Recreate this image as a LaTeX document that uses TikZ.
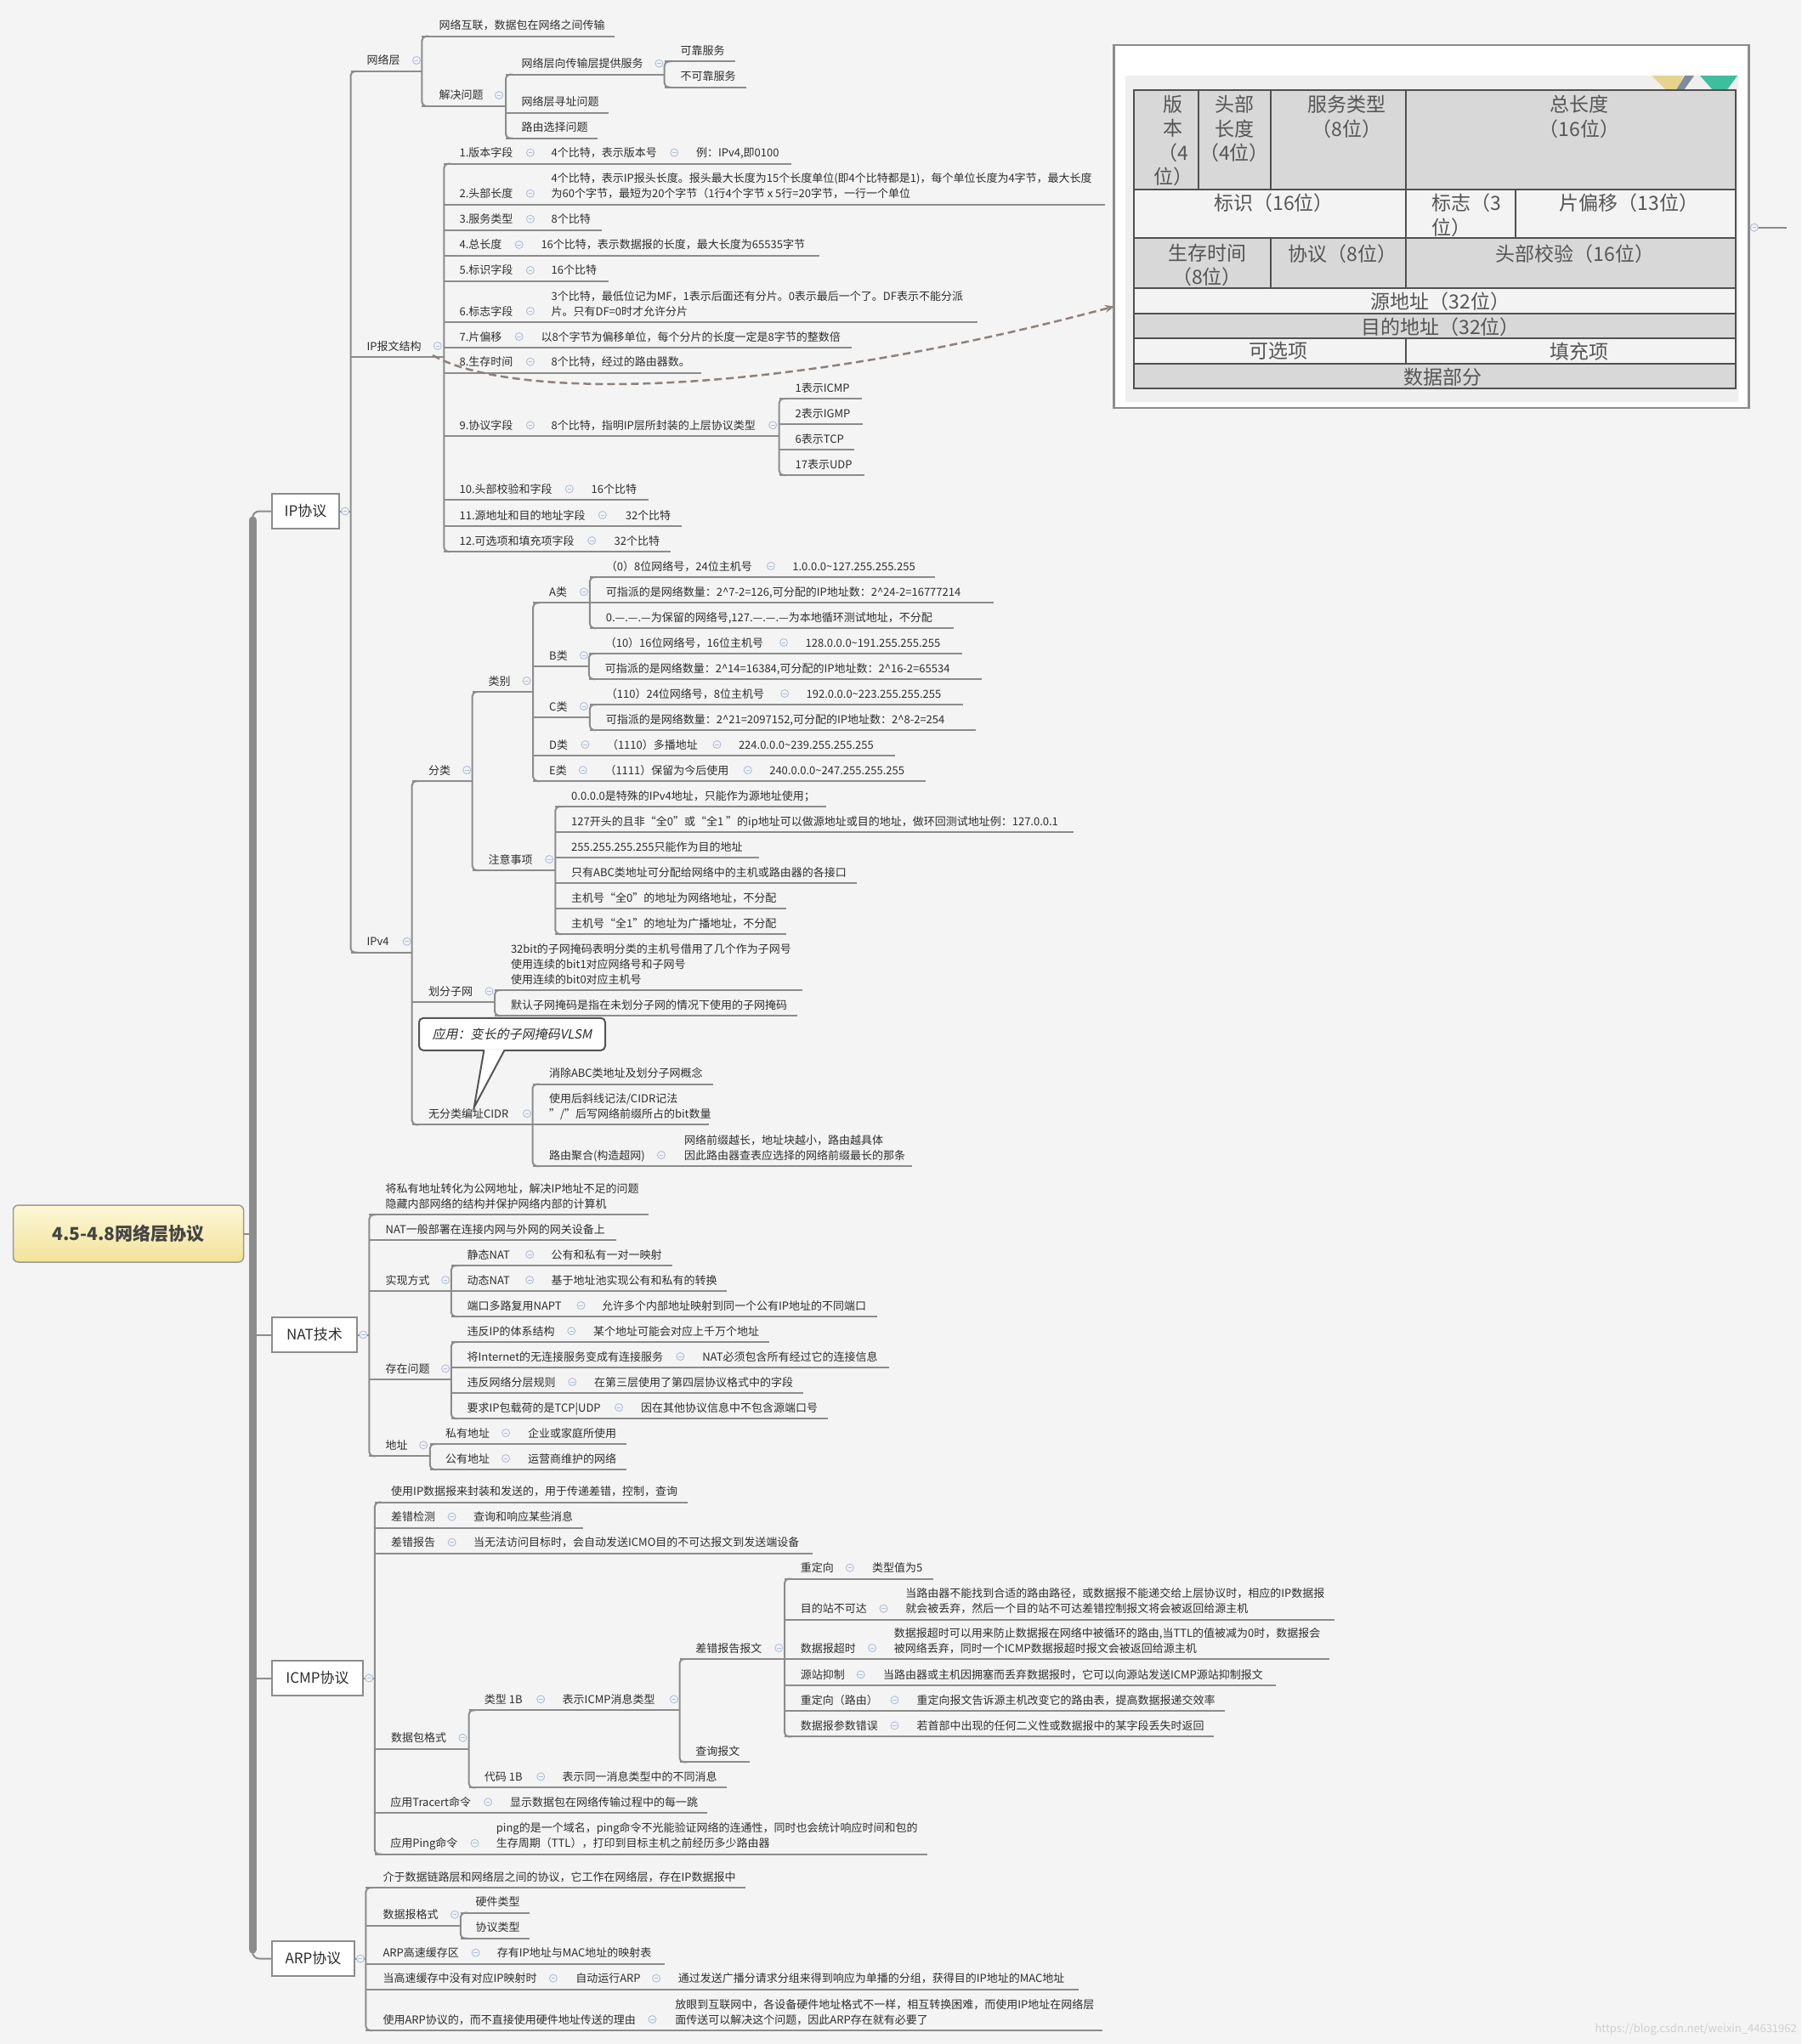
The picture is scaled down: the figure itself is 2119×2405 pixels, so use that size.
\documentclass[tikz,border=0pt]{standalone}
\usepackage{fontspec}
\setmainfont{Noto Sans CJK SC}
\newfontfamily\itfont[FakeSlant=0.2]{Noto Sans CJK SC}
\usetikzlibrary{arrows.meta}
\definecolor{bg}{HTML}{F4F4F4}
\definecolor{lc}{HTML}{8C8C8C}
\definecolor{tc}{HTML}{2E2E2E}
\definecolor{cc}{HTML}{AEBDDA}
\definecolor{tg}{HTML}{D8D8D8}
\definecolor{tw}{HTML}{F3F3F3}
\definecolor{tl}{HTML}{555555}
\definecolor{tb}{HTML}{505050}
\definecolor{dsh}{HTML}{8E817B}
\definecolor{imgbg}{HTML}{EFEFEF}
\definecolor{dyel}{HTML}{E6D38C}
\definecolor{dgry}{HTML}{7F8C99}
\definecolor{dtea}{HTML}{3DBF9C}
\definecolor{rootb}{HTML}{9A9A9A}
\definecolor{roott}{HTML}{FCF8D6}
\definecolor{rootbot}{HTML}{F2E29A}
\definecolor{roottx}{HTML}{444444}
\definecolor{wmc}{HTML}{CFCFCF}
\newcounter{nn}
\newcommand\fs{\fontsize{13}{18}\selectfont}
\newcommand\TX[3]{\stepcounter{nn}\node[txt] (t\thenn) at (#1,#2) {#3};}
\newcommand\TT[3]{\stepcounter{nn}\node[tcell] (c\thenn) at (#1,#2) {#3};}
\newcommand\UL[3]{\draw[lnk] (#1,#3) -- (#2,#3);}
\newcommand\SP[3]{\draw[lnk,rounded corners=5pt] (#1+8,#2) -- (#1,#2) -- (#1,#3) -- (#1+8,#3);}
\newcommand\CM[2]{\draw[cmk] (#1,#2) circle[radius=4.5pt]; \draw[cmk] (#1-2.3,#2) -- (#1+2.3,#2);}
\tikzset{
 lnk/.style={draw=lc, line width=2pt},
 txt/.style={anchor=south west, inner sep=0pt, outer sep=0pt, yshift=2.6pt, font=\fs, text=tc, align=left, execute at end node=\strut},
 cmk/.style={draw=cc, line width=0.9pt, fill=bg},
 mbox/.style={draw=lc, line width=2pt, fill=white, font=\fontsize{17}{20}\selectfont, text=tc, inner sep=0pt, minimum height=41pt},
 tcell/.style={font=\fontsize{23}{28.5}\selectfont, text=tl, align=center, inner sep=0pt},
}
\begin{document}
\begin{tikzpicture}[x=1pt,y=-1pt]
\fill[bg] (0,0) rectangle (2119,2405);
\useasboundingbox (0,0) rectangle (2119,2405);

% ---------------- image of IP header ----------------
\node[draw=lc, line width=2.5pt, fill=white, minimum width=747pt, minimum height=427pt, inner sep=0pt] (img) at (1684,266.35) {};
\fill[imgbg] (1324,89) rectangle (2044.5,472.7);
\fill[dyel] (1943,89) -- (1980,89) -- (1973,106) -- (1960,106) -- cycle;
\fill[dgry] (1982,89) -- (1993,89) -- (1981,106) -- (1972,106) -- cycle;
\fill[dtea] (2000,89) -- (2044,89) -- (2024,116) -- cycle;
\fill[tg] (1334,106) rectangle (2042,222.7);
\fill[tw] (1334,222.7) rectangle (2042,280.3);
\fill[tg] (1334,280.3) rectangle (2042,339.3);
\fill[tw] (1334,339.3) rectangle (2042,369.3);
\fill[tg] (1334,369.3) rectangle (2042,398.3);
\fill[tw] (1334,398.3) rectangle (2042,427.7);
\fill[tg] (1334,427.7) rectangle (2042,457.3);
\begin{scope}[draw=tb, line width=2pt]
\draw (1334,106) rectangle (2042,457.3);
\foreach \yy in {222.7,280.3,339.3,369.3,398.3,427.7} \draw (1334,\yy) -- (2042,\yy);
\foreach \xx in {1410.2,1494.9,1653.7} \draw (\xx,106) -- (\xx,222.7);
\foreach \xx in {1653.7,1783.3} \draw (\xx,222.7) -- (\xx,280.3);
\foreach \xx in {1494.9,1653.7} \draw (\xx,280.3) -- (\xx,339.3);
\draw (1653.7,398.3) -- (1653.7,427.7);
\end{scope}
\TT{1380}{165.5}{版\\本\\（4\\位）}
\TT{1452}{151.5}{头部\\长度\\（4位）}
\TT{1584.7}{137.3}{服务类型\\（8位）}
\TT{1858}{137.3}{总长度\\（16位）}
\TT{1498.5}{239}{标识（16位）}
\stepcounter{nn}\node[tcell, align=left, anchor=west] (c\thenn) at (1684,253.3) {标志（3\\位）};
\TT{1916.5}{239}{片偏移（13位）}
\TT{1420}{312}{生存时间\\（8位）}
\TT{1579.5}{298.3}{协议（8位）}
\TT{1852.8}{298.3}{头部校验（16位）}
\TT{1694.5}{355}{源地址（32位）}
\TT{1694.5}{384.3}{目的地址（32位）}
\TT{1503.8}{413.3}{可选项}
\TT{1858}{413.3}{填充项}
\TT{1697}{443.3}{数据部分}
\draw[lnk] (2068,267.7) -- (2102,267.7);
\CM{2063.8}{267.7}

% ---------------- root and main branches ----------------
\node[draw=rootb, line width=1.5pt, rounded corners=6pt, top color=roott, bottom color=rootbot, minimum width=271pt, minimum height=67pt, inner sep=0pt, font=\bfseries\fontsize{21}{24}\selectfont, text=roottx] (root) at (151,1451.5) {4.5-4.8网络层协议};
\draw[lc, line width=9pt, line cap=round] (297,612) -- (297,2294);
\node[mbox, minimum width=79pt] (ip) at (359.5,601.5) {IP协议};
\node[mbox, minimum width=100pt] (nat) at (370,1570.5) {NAT技术};
\node[mbox, minimum width=107pt] (icmp) at (373.5,1974.5) {ICMP协议};
\node[mbox, minimum width=97pt] (arp) at (368.5,2304.5) {ARP协议};
\draw[lnk] (root.east) -- (297,1451.5);
\draw[lnk, rounded corners=8pt] (297,625) -- (297,601.5) -- (ip.west);
\draw[lnk] (297,1570.5) -- (nat.west);
\draw[lnk] (297,1974.5) -- (icmp.west);
\draw[lnk, rounded corners=8pt] (297,2285) -- (297,2304.5) -- (arp.west);
\draw[lnk] (ip.east) -- (412.5,601.5);
\draw[lnk] (nat.east) -- (434.4,1570.5);
\draw[lnk] (icmp.east) -- (440.8,1974.5);
\draw[lnk] (arp.east) -- (430.4,2304.5);
\CM{406}{601.5}
\CM{427.3}{1570.5}
\CM{434}{1974.5}
\CM{424}{2304.5}

% ---------------- IP protocol ----------------
\SP{412.5}{84}{1120.7}
% network layer
\UL{412.5}{496.4}{84} \TX{431.6}{84}{网络层} \CM{490}{71}
\SP{496.4}{42.7}{125}
\UL{496.4}{722.6}{42.7} \TX{516.5}{42.7}{网络互联，数据包在网络之间传输}
\UL{496.4}{595}{125} \TX{516.5}{125}{解决问题} \CM{587}{112}
\SP{595}{87.7}{162.7}
\UL{595}{781.7}{87.7} \TX{613.5}{87.7}{网络层向传输层提供服务} \CM{775.4}{74.7}
\SP{781.7}{72.3}{102.7}
\UL{781.7}{865}{72.3} \TX{800.7}{72.3}{可靠服务}
\UL{781.7}{877.6}{102.7} \TX{800.7}{102.7}{不可靠服务}
\UL{595}{715.7}{132.7} \TX{613.5}{132.7}{网络层寻址问题}
\UL{595}{703}{162.7} \TX{613.5}{162.7}{路由选择问题}
% IP packet structure
\UL{412.5}{522.3}{420} \TX{431.6}{420}{IP报文结构} \CM{514.8}{407}
\SP{522.3}{192.7}{649}
\UL{522.3}{931}{192.7} \TX{540.6}{192.7}{1.版本字段} \CM{623.9}{179.7} \TX{648.6}{192.7}{4个比特，表示版本号} \CM{793.2}{179.7} \TX{819}{192.7}{例：IPv4,即0100}
\UL{522.3}{1300}{240.7} \TX{540.6}{240.7}{2.头部长度} \CM{623.9}{227.7} \TX{648.6}{240.7}{4个比特，表示IP报头长度。报头最大长度为15个长度单位(即4个比特都是1)，每个单位长度为4字节，最大长度\\为60个字节，最短为20个字节（1行4个字节 x 5行=20字节，一行一个单位}
\UL{522.3}{708.3}{270.7} \TX{540.6}{270.7}{3.服务类型} \CM{623.9}{257.7} \TX{648.6}{270.7}{8个比特}
\UL{522.3}{964.3}{301} \TX{540.6}{301}{4.总长度} \CM{610.7}{288} \TX{636.5}{301}{16个比特，表示数据报的长度，最大长度为65535字节}
\UL{522.3}{715.7}{331} \TX{540.6}{331}{5.标识字段} \CM{623.9}{318} \TX{648.6}{331}{16个比特}
\UL{522.3}{1150.3}{379} \TX{540.6}{379}{6.标志字段} \CM{623.9}{366} \TX{648.6}{379}{3个比特，最低位记为MF，1表示后面还有分片。0表示最后一个了。DF表示不能分派\\片。只有DF=0时才允许分片}
\UL{522.3}{1001.6}{409} \TX{540.6}{409}{7.片偏移} \CM{610.7}{396} \TX{636.5}{409}{以8个字节为偏移单位，每个分片的长度一定是8字节的整数倍}
\UL{522.3}{824.8}{438.7} \TX{540.6}{438.7}{8.生存时间} \CM{623.9}{425.7} \TX{648.6}{438.7}{8个比特，经过的路由器数。}
\UL{522.3}{916.7}{513.3} \TX{540.6}{513.3}{9.协议字段} \CM{623.9}{500.3} \TX{648.6}{513.3}{8个比特，指明IP层所封装的上层协议类型} \CM{909.2}{500.3}
\SP{916.7}{469}{559}
\UL{916.7}{1014}{469} \TX{935.6}{469}{1表示ICMP}
\UL{916.7}{1015.4}{499} \TX{935.6}{499}{2表示IGMP}
\UL{916.7}{1004.5}{529} \TX{935.6}{529}{6表示TCP}
\UL{916.7}{1016.5}{559} \TX{935.6}{559}{17表示UDP}
\UL{522.3}{762.8}{588.3} \TX{540.6}{588.3}{10.头部校验和字段} \CM{669.8}{575.3} \TX{695.6}{588.3}{16个比特}
\UL{522.3}{801.8}{619} \TX{540.6}{619}{11.源地址和目的地址字段} \CM{708.8}{606} \TX{735.8}{619}{32个比特}
\UL{522.3}{789.2}{649} \TX{540.6}{649}{12.可选项和填充项字段} \CM{696.2}{636} \TX{722.6}{649}{32个比特}
% IPv4
\UL{412.5}{484.7}{1120.7} \TX{431.6}{1120.7}{IPv4} \CM{478.6}{1107.7}
\SP{484.7}{919}{1323.3}
\UL{484.7}{555.7}{919} \TX{504.2}{919}{分类} \CM{549.2}{906}
\SP{555.7}{814}{1024}
\UL{555.7}{627.2}{814} \TX{574.7}{814}{类别} \CM{619.6}{801}
\SP{627.2}{709.3}{919}
\UL{627.2}{693.9}{709.3} \TX{646.2}{709.3}{A类} \CM{686.9}{696.3}
\SP{693.9}{679}{739}
\UL{693.9}{1100.4}{679} \TX{712.9}{679}{（0）8位网络号，24位主机号} \CM{906.9}{666} \TX{932.4}{679}{1.0.0.0\textasciitilde127.255.255.255}
\UL{693.9}{1169.2}{709.3} \TX{712.9}{709.3}{可指派的是网络数量：2\textasciicircum7-2=126,可分配的IP地址数：2\textasciicircum24-2=16777214}
\UL{693.9}{1122.1}{739} \TX{712.9}{739}{0.—.—.—为保留的网络号,127.—.—.—为本地循环测试地址，不分配}
\UL{627.2}{692.8}{784} \TX{646.2}{784}{B类} \CM{686.9}{771}
\SP{692.8}{769}{799}
\UL{692.8}{1131.8}{769} \TX{711.8}{769}{（10）16位网络号，16位主机号} \CM{922.1}{756} \TX{947.6}{769}{128.0.0.0\textasciitilde191.255.255.255}
\UL{692.8}{1154.6}{799} \TX{711.8}{799}{可指派的是网络数量：2\textasciicircum14=16384,可分配的IP地址数：2\textasciicircum16-2=65534}
\UL{627.2}{693.9}{844} \TX{646.2}{844}{C类} \CM{686.9}{831}
\SP{693.9}{829}{859}
\UL{693.9}{1133}{829} \TX{712.9}{829}{（110）24位网络号，8位主机号} \CM{923.2}{816} \TX{948.6}{829}{192.0.0.0\textasciitilde223.255.255.255}
\UL{693.9}{1148}{859} \TX{712.9}{859}{可指派的是网络数量：2\textasciicircum21=2097152,可分配的IP地址数：2\textasciicircum8-2=254}
\UL{627.2}{1052.7}{889} \TX{646.2}{889}{D类} \CM{688.5}{876} \TX{714}{889}{（1110）多播地址} \CM{843.5}{876} \TX{869}{889}{224.0.0.0\textasciitilde239.255.255.255}
\UL{627.2}{1088.5}{919} \TX{646.2}{919}{E类} \CM{685.8}{906} \TX{711.5}{919}{（1111）保留为今后使用} \CM{879.8}{906} \TX{905.3}{919}{240.0.0.0\textasciitilde247.255.255.255}
\UL{555.7}{653.3}{1024} \TX{574.7}{1024}{注意事项} \CM{646.2}{1011}
\SP{653.3}{949}{1099}
\UL{653.3}{972}{949} \TX{672.2}{949}{0.0.0.0是特殊的IPv4地址，只能作为源地址使用；}
\UL{653.3}{1263}{979} \TX{672.2}{979}{127开头的且非“全0”或“全1 ”的ip地址可以做源地址或目的地址，做环回测试地址例：127.0.0.1}
\UL{653.3}{892.8}{1009} \TX{672.2}{1009}{255.255.255.255只能作为目的地址}
\UL{653.3}{1008.3}{1039} \TX{672.2}{1039}{只有ABC类地址可分配给网络中的主机或路由器的各接口}
\UL{653.3}{925.3}{1069} \TX{672.2}{1069}{主机号“全0”的地址为网络地址，不分配}
\UL{653.3}{925.3}{1099} \TX{672.2}{1099}{主机号“全1”的地址为广播地址，不分配}
\UL{484.7}{582}{1179.3} \TX{504}{1179.3}{划分子网} \CM{575.5}{1166.3}
\SP{582}{1165}{1195}
\UL{582}{943.9}{1165} \TX{601}{1165}{32bit的子网掩码表明分类的主机号借用了几个作为子网号\\使用连续的bit1对应网络号和子网号\\使用连续的bit0对应主机号}
\UL{582}{937.8}{1195} \TX{601}{1195}{默认子网掩码是指在未划分子网的情况下使用的子网掩码}
\node[draw=tl, line width=2pt, fill=white, rounded corners=5pt, minimum width=219pt, minimum height=38pt, inner sep=0pt, font=\itfont\fontsize{15}{18}\selectfont, text=tc] (vlsm) at (602.5,1216.8) {应用：变长的子网掩码VLSM};
\fill[white] (570,1234.5) -- (557.7,1303) -- (593,1234.5) -- cycle;
\draw[draw=tl, line width=2pt] (569.4,1235.8) -- (557.7,1303) -- (593.4,1235.8);
\UL{484.7}{626.5}{1323.3} \TX{504}{1323.3}{无分类编址CIDR} \CM{620}{1310.3}
\SP{626.5}{1275.7}{1372}
\UL{626.5}{839.3}{1275.7} \TX{646}{1275.7}{消除ABC类地址及划分子网概念}
\UL{626.5}{834.2}{1323.3} \TX{646}{1323.3}{使用后斜线记法/CIDR记法\\"/"后写网络前缀所占的bit数量}
\UL{626.5}{1073}{1372} \TX{646}{1372}{路由聚合(构造超网)} \CM{778}{1359} \TX{805}{1372}{网络前缀越长，地址块越小，路由越具体\\因此路由器查表应选择的网络前缀最长的那条}

% ---------------- NAT ----------------
\SP{434.4}{1429.3}{1713.3}
\UL{434.4}{762.5}{1429.3} \TX{453.6}{1429.3}{将私有地址转化为公网地址，解决IP地址不足的问题\\隐藏内部网络的结构并保护网络内部的计算机}
\UL{434.4}{725}{1459} \TX{453.6}{1459}{NAT一般部署在连接内网与外网的网关设备上}
\UL{434.4}{530.8}{1519} \TX{453.6}{1519}{实现方式} \CM{524.1}{1506}
\SP{530.8}{1489}{1549}
\UL{530.8}{790.6}{1489} \TX{549.6}{1489}{静态NAT} \CM{623.2}{1476} \TX{648.7}{1489}{公有和私有一对一映射}
\UL{530.8}{855.4}{1519} \TX{549.6}{1519}{动态NAT} \CM{623.2}{1506} \TX{648.7}{1519}{基于地址池实现公有和私有的转换}
\UL{530.8}{1031.7}{1549} \TX{549.6}{1549}{端口多路复用NAPT} \CM{683.5}{1536} \TX{708}{1549}{允许多个内部地址映射到同一个公有IP地址的不同端口}
\UL{434.4}{530.8}{1623.3} \TX{453.6}{1623.3}{存在问题} \CM{524.1}{1610.3}
\SP{530.8}{1579}{1669}
\UL{530.8}{904.5}{1579} \TX{549.6}{1579}{违反IP的体系结构} \CM{672.3}{1566} \TX{698.2}{1579}{某个地址可能会对应上千万个地址}
\UL{530.8}{1046.4}{1609} \TX{549.6}{1609}{将Internet的无连接服务变成有连接服务} \CM{800.4}{1596} \TX{826.3}{1609}{NAT必须包含所有经过它的连接信息}
\UL{530.8}{944.6}{1639} \TX{549.6}{1639}{违反网络分层规则} \CM{673.2}{1626} \TX{699.1}{1639}{在第三层使用了第四层协议格式中的字段}
\UL{530.8}{973.7}{1669} \TX{549.6}{1669}{要求IP包载荷的是TCP|UDP} \CM{728.1}{1656} \TX{754}{1669}{因在其他协议信息中不包含源端口号}
\UL{434.4}{505.8}{1713.3} \TX{453.6}{1713.3}{地址} \CM{498.2}{1700.3}
\SP{505.8}{1699}{1729}
\UL{505.8}{737}{1699} \TX{524.1}{1699}{私有地址} \CM{595.1}{1686} \TX{621}{1699}{企业或家庭所使用}
\UL{505.8}{737}{1729} \TX{524.1}{1729}{公有地址} \CM{595.1}{1716} \TX{621}{1729}{运营商维护的网络}

% ---------------- ICMP ----------------
\SP{440.8}{1767.7}{2181.7}
\UL{440.8}{809.2}{1767.7} \TX{460.2}{1767.7}{使用IP数据报来封装和发送的，用于传递差错，控制，查询}
\UL{440.8}{685.7}{1797.7} \TX{460.2}{1797.7}{差错检测} \CM{531.6}{1784.7} \TX{557.1}{1797.7}{查询和响应某些消息}
\UL{440.8}{956.1}{1827.7} \TX{460.2}{1827.7}{差错报告} \CM{531.6}{1814.7} \TX{557.1}{1827.7}{当无法访问目标时，会自动发送ICMO目的不可达报文到发送端设备}
\UL{440.8}{551.5}{2057.7} \TX{460.2}{2057.7}{数据包格式} \CM{544.4}{2044.7}
\SP{551.5}{2012.3}{2103.3}
\UL{551.5}{799.5}{2012.3} \TX{569.9}{2012.3}{类型 1B} \CM{636.2}{1999.3} \TX{661.7}{2012.3}{表示ICMP消息类型} \CM{792.9}{1999.3}
\SP{799.5}{1952}{2073.3}
\UL{799.5}{923}{1952} \TX{818.4}{1952}{差错报告报文} \CM{916.3}{1939}
\SP{923}{1857.7}{2043.3}
\UL{923}{1097.8}{1857.7} \TX{941.9}{1857.7}{重定向} \CM{999.8}{1844.7} \TX{1026.1}{1857.7}{类型值为5}
\UL{923}{1570.1}{1905.7} \TX{941.9}{1905.7}{目的站不可达} \CM{1039.5}{1892.7} \TX{1065.3}{1905.7}{当路由器不能找到合适的路由路径，或数据报不能递交给上层协议时，相应的IP数据报\\就会被丢弃，然后一个目的站不可达差错控制报文将会被返回给源主机}
\UL{923}{1563.9}{1952} \TX{941.9}{1952}{数据报超时} \CM{1026.1}{1939} \TX{1051.9}{1952}{数据报超时可以用来防止数据报在网络中被循环的路由,当TTL的值被减为0时，数据报会\\被网络丢弃，同时一个ICMP数据报超时报文会被返回给源主机}
\UL{923}{1500.7}{1983.3} \TX{941.9}{1983.3}{源站抑制} \CM{1012.7}{1970.3} \TX{1039}{1983.3}{当路由器或主机因拥塞而丢弃数据报时，它可以向源站发送ICMP源站抑制报文}
\UL{923}{1440.9}{2013.3} \TX{941.9}{2013.3}{重定向（路由）} \CM{1052.4}{2000.3} \TX{1078.7}{2013.3}{重定向报文告诉源主机改变它的路由表，提高数据报递交效率}
\UL{923}{1428}{2043.3} \TX{941.9}{2043.3}{数据报参数错误} \CM{1052.4}{2030.3} \TX{1078.7}{2043.3}{若首部中出现的任何二义性或数据报中的某字段丢失时返回}
\UL{799.5}{882.1}{2073.3} \TX{818.4}{2073.3}{查询报文}
\UL{551.5}{855.1}{2103.3} \TX{569.9}{2103.3}{代码 1B} \CM{636.2}{2090.3} \TX{661.7}{2103.3}{表示同一消息类型中的不同消息}
\UL{440.8}{832.1}{2133.3} \TX{459.4}{2133.3}{应用Tracert命令} \CM{574.1}{2120.3} \TX{600}{2133.3}{显示数据包在网络传输过程中的每一跳}
\UL{440.8}{1091}{2181.7} \TX{459.4}{2181.7}{应用Ping命令} \CM{558.5}{2168.7} \TX{583.9}{2181.7}{ping的是一个域名，ping命令不光能验证网络的连通性，同时也会统计响应时间和包的\\生存周期（TTL），打印到目标主机之前经历多少路由器}

% ---------------- ARP ----------------
\SP{430.4}{2221}{2389}
\UL{430.4}{876.5}{2221} \TX{450.5}{2221}{介于数据链路层和网络层之间的协议，它工作在网络层，存在IP数据报中}
\UL{430.4}{541.8}{2265.7} \TX{450.5}{2265.7}{数据报格式} \CM{534.9}{2252.7}
\SP{541.8}{2250.7}{2280.7}
\UL{541.8}{622.7}{2250.7} \TX{559.6}{2250.7}{硬件类型}
\UL{541.8}{622.7}{2280.7} \TX{559.6}{2280.7}{协议类型}
\UL{430.4}{781.7}{2310.7} \TX{450.5}{2310.7}{ARP高速缓存区} \CM{559.6}{2297.7} \TX{584.8}{2310.7}{存有IP地址与MAC地址的映射表}
\UL{430.4}{1268.5}{2340.7} \TX{450.5}{2340.7}{当高速缓存中没有对应IP映射时} \CM{650.9}{2327.7} \TX{677.3}{2340.7}{自动运行ARP} \CM{772}{2327.7} \TX{797.8}{2340.7}{通过发送广播分请求分组来得到响应为单播的分组，获得目的IP地址的MAC地址}
\UL{430.4}{1297}{2389} \TX{450.5}{2389}{使用ARP协议的，而不直接使用硬件地址传送的理由} \CM{767.4}{2376} \TX{794.4}{2389}{放眼到互联网中，各设备硬件地址格式不一样，相互转换困难，而使用IP地址在网络层\\面传送可以解决这个问题，因此ARP存在就有必要了}

% ---------------- dashed link ----------------
\coordinate (dstart) at (509,418);
\coordinate (dend) at (1311,360.5);
\draw[dsh, line width=2.5pt, dash pattern=on 9pt off 5pt, -{Stealth[length=11pt,width=9pt]}] (dstart) .. controls (600,470) and (900,470) .. (dend);

\node[anchor=east, inner sep=0pt, font=\fontsize{13}{15}\selectfont, text=wmc] (wm) at (2114,2388) {https://blog.csdn.net/weixin\_44631962};
\end{tikzpicture}
\end{document}
